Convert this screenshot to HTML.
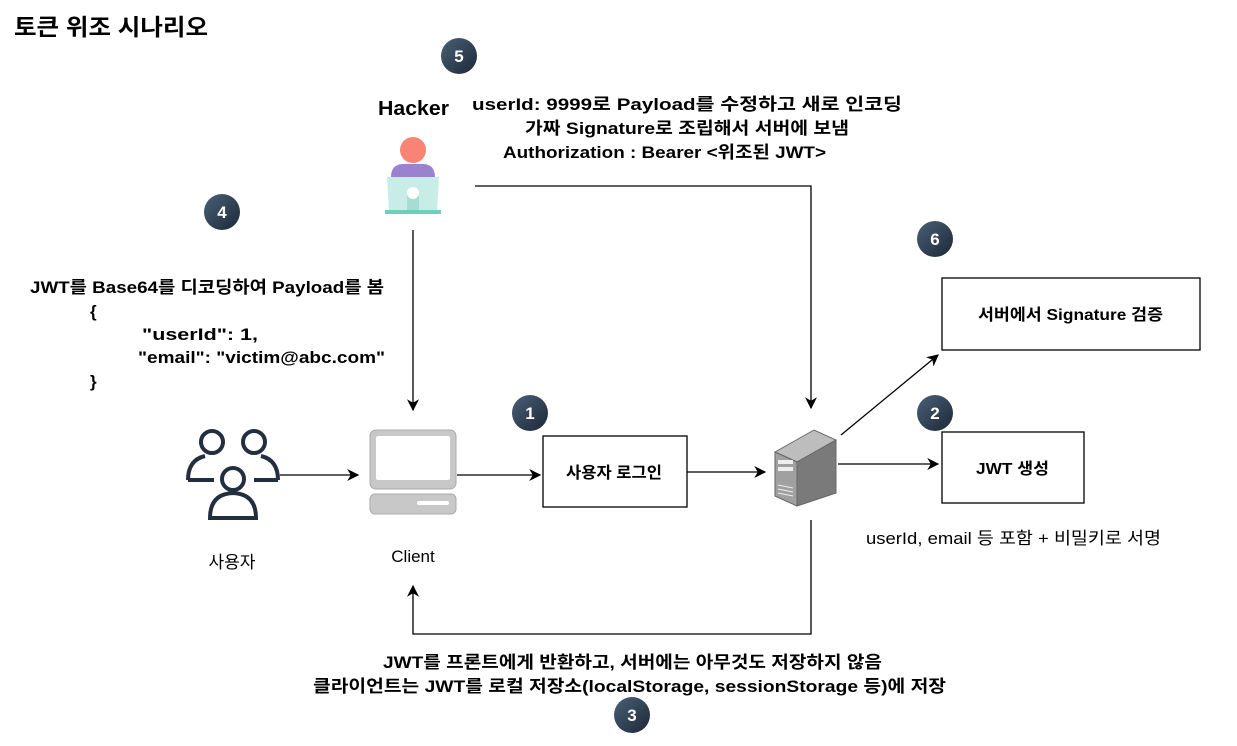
<!DOCTYPE html>
<html><head><meta charset="utf-8"><style>
html,body{margin:0;padding:0;background:#fff}
svg{display:block}
text{font-family:"Liberation Sans","Noto Sans CJK KR",sans-serif;fill:#000}
.b{font-weight:bold;font-size:17px}
.n{font-size:17px}
.bt{fill:#fff;font-weight:bold;font-size:17px}
</style></head><body>
<svg width="1237" height="746" viewBox="0 0 1237 746" xmlns="http://www.w3.org/2000/svg">
<defs>
<marker id="ar" viewBox="0 0 10 10" refX="9" refY="5" markerWidth="12" markerHeight="12" orient="auto" markerUnits="userSpaceOnUse"><path d="M0,0 L10,5 L0,10 L3,5 z" fill="#000"/></marker>
<linearGradient id="bg" x1="0" y1="0" x2="1" y2="1"><stop offset="0" stop-color="#4a6078"/><stop offset="1" stop-color="#1c2836"/></linearGradient>
</defs>
<text x="14" y="35" style="font-weight:bold;font-size:23px" textLength="194" lengthAdjust="spacingAndGlyphs">토큰 위조 시나리오</text>

<g>
<circle cx="459" cy="56" r="18" fill="url(#bg)"/><text class="bt" x="459" y="62" text-anchor="middle">5</text>
<circle cx="222" cy="212" r="18" fill="url(#bg)"/><text class="bt" x="222" y="218" text-anchor="middle">4</text>
<circle cx="935" cy="239" r="18" fill="url(#bg)"/><text class="bt" x="935" y="245" text-anchor="middle">6</text>
<circle cx="530" cy="413" r="18" fill="url(#bg)"/><text class="bt" x="530" y="419" text-anchor="middle">1</text>
<circle cx="935" cy="413" r="18" fill="url(#bg)"/><text class="bt" x="935" y="419" text-anchor="middle">2</text>
<circle cx="632" cy="715" r="18" fill="url(#bg)"/><text class="bt" x="632" y="721" text-anchor="middle">3</text>
</g>

<text x="378" y="115" style="font-weight:bold;font-size:20px" textLength="71" lengthAdjust="spacingAndGlyphs">Hacker</text>
<circle cx="413" cy="150" r="13" fill="#f98473"/>
<path d="M391,177 Q391,165 402,164 L424,164 Q435,165 435,177 z" fill="#9b82cf"/>
<path d="M387,177 L439,177 L437,211 L389,211 z" fill="#c8ede6"/>
<rect x="407" y="193" width="12" height="18" fill="#a5ddd2"/>
<circle cx="413" cy="193" r="6" fill="#fff"/>
<rect x="385" y="210" width="56" height="4" fill="#6fcfbf"/>

<text class="b" x="472" y="110" textLength="430" lengthAdjust="spacingAndGlyphs">userId: 9999로 Payload를 수정하고 새로 인코딩</text>
<text class="b" x="525" y="134" textLength="324" lengthAdjust="spacingAndGlyphs">가짜 Signature로 조립해서 서버에 보냄</text>
<text class="b" x="503" y="158" textLength="323" lengthAdjust="spacingAndGlyphs">Authorization : Bearer &lt;위조된 JWT&gt;</text>

<polyline points="475,186 811,186 811,408" fill="none" stroke="#000" stroke-width="1.3" marker-end="url(#ar)"/>
<line x1="413" y1="230" x2="413" y2="410" stroke="#000" stroke-width="1.3" marker-end="url(#ar)"/>

<text class="b" x="30" y="293" textLength="354" lengthAdjust="spacingAndGlyphs">JWT를 Base64를 디코딩하여 Payload를 봄</text>
<text class="b" x="90" y="317">{</text>
<text class="b" x="142" y="340" textLength="116" lengthAdjust="spacingAndGlyphs">"userId": 1,</text>
<text class="b" x="138" y="363" textLength="247" lengthAdjust="spacingAndGlyphs">"email": "victim@abc.com"</text>
<text class="b" x="90" y="387">}</text>

<g fill="none" stroke="#232f3e" stroke-width="4">
<circle cx="212" cy="442" r="11"/>
<circle cx="254" cy="442" r="11"/>
<path d="M188,480 Q188,460 205,456"/>
<path d="M278,480 Q278,460 261,456"/>
<path d="M188,480 L214,480"/>
<path d="M278,480 L254,480"/>
<circle cx="233" cy="479" r="11"/>
<path d="M210,518 Q210,494 233,493 Q256,494 256,518 z"/>
</g>
<text class="n" x="232" y="568" text-anchor="middle">사용자</text>
<line x1="280" y1="475" x2="358" y2="475" stroke="#000" stroke-width="1.3" marker-end="url(#ar)"/>

<rect x="370" y="430" width="86" height="59" rx="6" fill="#c8c8c8" stroke="#aaa"/>
<rect x="376" y="436" width="74" height="44" rx="2" fill="#fff"/>
<rect x="370" y="494" width="86" height="20" rx="5" fill="#c8c8c8" stroke="#aaa"/>
<rect x="417" y="501" width="32" height="4" rx="2" fill="#fff"/>
<text class="n" x="413" y="562" text-anchor="middle">Client</text>

<line x1="457" y1="475" x2="540" y2="475" stroke="#000" stroke-width="1.3" marker-end="url(#ar)"/>
<rect x="543" y="436" width="144" height="71" fill="#fff" stroke="#000" stroke-width="1.3"/>
<text class="b" x="566" y="478" style="font-size:16px" textLength="96" lengthAdjust="spacingAndGlyphs">사용자 로그인</text>
<line x1="687" y1="472" x2="765" y2="472" stroke="#000" stroke-width="1.3" marker-end="url(#ar)"/>

<polygon points="775,452 814,430 836,440 797,462" fill="#bdbdbd" stroke="#666"/>
<polygon points="797,462 836,440 836,493 797,506" fill="#7a7a7a" stroke="#666"/>
<polygon points="775,452 797,462 797,506 775,496" fill="#a0a0a0" stroke="#666"/>
<rect x="778" y="460" width="15" height="4" fill="#eee"/>
<rect x="778" y="467" width="15" height="4" fill="#eee"/>
<g stroke="#eee" stroke-width="1"><line x1="778" y1="485" x2="793" y2="488"/><line x1="778" y1="489" x2="793" y2="492"/><line x1="778" y1="493" x2="793" y2="496"/></g>

<line x1="838" y1="464" x2="938" y2="464" stroke="#000" stroke-width="1.3" marker-end="url(#ar)"/>
<rect x="942" y="432" width="142" height="71" fill="#fff" stroke="#000" stroke-width="1.3"/>
<text class="b" x="976" y="474" style="font-size:16px" textLength="73" lengthAdjust="spacingAndGlyphs">JWT 생성</text>
<line x1="841" y1="435" x2="938" y2="355" stroke="#000" stroke-width="1.3" marker-end="url(#ar)"/>
<rect x="942" y="278" width="258" height="72" fill="#fff" stroke="#000" stroke-width="1.3"/>
<text class="b" x="978" y="320" style="font-size:16px" textLength="185" lengthAdjust="spacingAndGlyphs">서버에서 Signature 검증</text>
<text class="n" x="866" y="544" textLength="295" lengthAdjust="spacingAndGlyphs">userId, email 등 포함 + 비밀키로 서명</text>

<polyline points="811,520 811,634 413,634 413,586" fill="none" stroke="#000" stroke-width="1.3" marker-end="url(#ar)"/>
<text class="b" x="383" y="668" textLength="499" lengthAdjust="spacingAndGlyphs">JWT를 프론트에게 반환하고, 서버에는 아무것도 저장하지 않음</text>
<text class="b" x="313" y="692" textLength="633" lengthAdjust="spacingAndGlyphs">클라이언트는 JWT를 로컬 저장소(localStorage, sessionStorage 등)에 저장</text>
</svg>
</body></html>
